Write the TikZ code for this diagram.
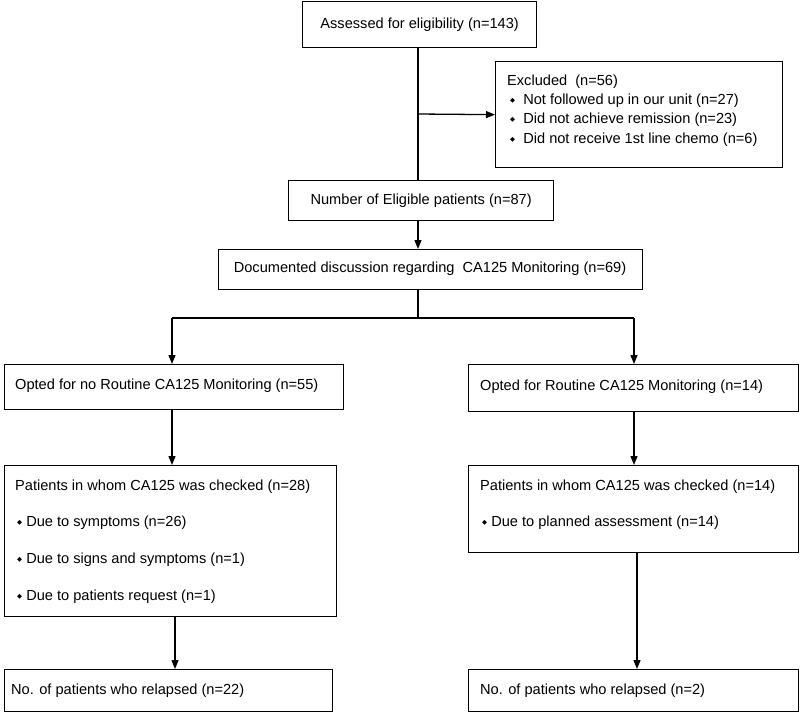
\documentclass[tikz,border=0pt]{standalone}
\usepackage{fontspec}
\setmainfont{Liberation Sans}
\newfontfamily\dejavu{DejaVu Sans}
\usetikzlibrary{arrows.meta}
\begin{document}
\begin{tikzpicture}[x=1pt,y=-1pt,
  box/.style={draw,line width=1.3pt,rectangle,inner sep=0pt},
  txt/.style={inner sep=0pt,font=\fontsize{14.6}{16}\selectfont},
  ln/.style={line width=1.3pt},
  arr/.style={line width=1.3pt,-{Triangle[length=9pt,width=7pt]}}]
\useasboundingbox (0,0) rectangle (800,713);
\newcommand{\bul}{\raisebox{2.5pt}{\dejavu\fontsize{6.5}{8}\selectfont ◆}}
% boxes
\node[box,minimum width=234pt,minimum height=46pt,anchor=north west] (ass) at (302,1) {};
\node[box,minimum width=287pt,minimum height=106pt,anchor=north west] (exc) at (495,61) {};
\node[box,minimum width=265pt,minimum height=40pt,anchor=north west] (num) at (288,180) {};
\node[box,minimum width=424pt,minimum height=40pt,anchor=north west] (doc) at (218,249) {};
\node[box,minimum width=339pt,minimum height=45pt,anchor=north west] (optL) at (4,364) {};
\node[box,minimum width=330pt,minimum height=47pt,anchor=north west] (optR) at (468,364) {};
\node[box,minimum width=332pt,minimum height=151pt,anchor=north west] (patL) at (4,465) {};
\node[box,minimum width=330pt,minimum height=87pt,anchor=north west] (patR) at (468,465) {};
\node[box,minimum width=328pt,minimum height=42pt,anchor=north west] (noL) at (4,669) {};
\node[box,minimum width=330pt,minimum height=42pt,anchor=north west] (noR) at (468,669) {};
% texts
\node[txt] (tass) at (ass.center) {Assessed for eligibility (n=143)};
\node[txt,anchor=west] (te0) at (507,82) {Excluded\ \ (n=56)};
\node[txt,anchor=west] (te1) at (510,101) {\bul\ \ Not followed up in our unit (n=27)};
\node[txt,anchor=west] (te2) at (510,120) {\bul\ \ Did not achieve remission (n=23)};
\node[txt,anchor=west] (te3) at (510,140) {\bul\ \ Did not receive 1st line chemo (n=6)};
\node[txt] (tnum) at (num.center) {Number of Eligible patients (n=87)};
\node[txt] (tdoc) at (430,269) {Documented discussion regarding\ \ CA125 Monitoring (n=69)};
\node[txt,anchor=west] (toL) at (15,386) {Opted for no Routine CA125 Monitoring (n=55)};
\node[txt,anchor=west] (toR) at (480,387) {Opted for Routine CA125 Monitoring (n=14)};
\node[txt,anchor=west] (tpL0) at (15,487) {Patients in whom CA125 was checked (n=28)};
\node[txt,anchor=west] (tpL1) at (17,523) {\bul\ Due to symptoms (n=26)};
\node[txt,anchor=west] (tpL2) at (17,560) {\bul\ Due to signs and symptoms (n=1)};
\node[txt,anchor=west] (tpL3) at (17,597) {\bul\ Due to patients request (n=1)};
\node[txt,anchor=west] (tpR0) at (480,487) {Patients in whom CA125 was checked (n=14)};
\node[txt,anchor=west] (tpR1) at (482,523) {\bul\ Due to planned assessment (n=14)};
\node[txt,anchor=west] (tnL) at (11,691) {No. of patients who relapsed (n=22)};
\node[txt,anchor=west] (tnR) at (480,691) {No. of patients who relapsed (n=2)};
% connectors
\coordinate (br) at (418,114);
\coordinate (jt) at (418,318);
\coordinate (jl) at (172,318);
\coordinate (jr) at (634,318);
\draw[ln] (ass.south -| br) -- (num.north -| br);
\draw[arr] (br) -- (exc.west);
\draw[arr] (num.south -| br) -- (doc.north -| br);
\draw[ln] (doc.south -| jt) -- (jt);
\draw[ln] (jl) -- (jr);
\draw[arr] (jl) -- (optL.north -| jl);
\draw[arr] (jr) -- (optR.north -| jr);
\draw[arr] (optL.south -| jl) -- (patL.north -| jl);
\draw[arr] (optR.south -| jr) -- (patR.north -| jr);
\coordinate (cl) at (175,0);
\coordinate (cr) at (637,0);
\draw[arr] (patL.south -| cl) -- (noL.north -| cl);
\draw[arr] (patR.south -| cr) -- (noR.north -| cr);
\end{tikzpicture}
\end{document}
